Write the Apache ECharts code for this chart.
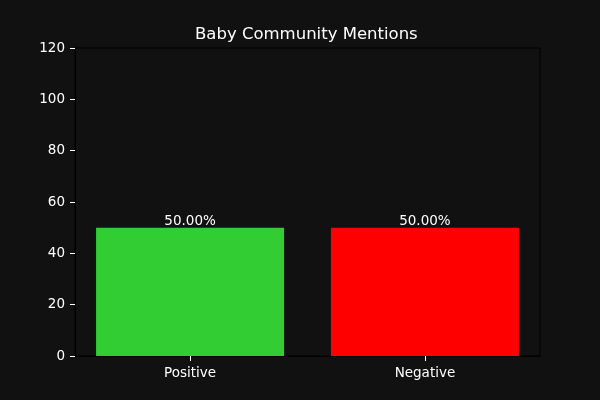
<!DOCTYPE html>
<html>
<head>
<meta charset="utf-8">
<script src="https://cdn.jsdelivr.net/npm/echarts@6/dist/echarts.min.js"></script>
<style>html,body{margin:0;padding:0;background:#111111;}#c{width:600px;height:400px;}</style>
</head>
<body>
<div id="c"></div>
<script>
var categories = ['Positive', 'Negative'];
var values = [50, 50];
var labels = ['50.00%', '50.00%'];
var colors = ['#32CD32', '#FF0000'];
var yTicks = [0, 20, 40, 60, 80, 100, 120];

var chart = echarts.init(document.getElementById('c'), null, {renderer: 'canvas'});
var font = 'DejaVu Sans';
var data = values.map(function (v, i) {
  return {value: [i, v], itemStyle: {color: colors[i]}, label: {formatter: labels[i]}};
});
chart.setOption({
  backgroundColor: '#111111',
  animation: false,
  title: {
    text: 'Baby Community Mentions',
    left: 190, top: 21,
    textStyle: {color: '#ffffff', fontFamily: font, fontSize: 16.5, fontWeight: 'normal'}
  },
  grid: {left: 75, right: 60, top: 48, bottom: 44, show: true, borderColor: '#000000', borderWidth: 1, backgroundColor: 'transparent'},
  xAxis: {
    type: 'value', min: -0.49, max: 1.49,
    splitLine: {show: false},
    axisLine: {show: true, onZero: false, lineStyle: {color: '#000000', width: 1}},
    axisTick: {show: true, length: 5, lineStyle: {color: '#ffffff'}, customValues: [0, 1]},
    axisLabel: {
      color: '#ffffff', fontFamily: font, fontSize: 13.5, margin: 10,
      customValues: [0, 1],
      formatter: function (v) { return categories[Math.round(v)] || ''; }
    }
  },
  yAxis: {
    type: 'value', min: 0, max: 120, interval: 20,
    splitLine: {show: false},
    axisLine: {show: true, onZero: false, lineStyle: {color: '#000000', width: 1}},
    axisTick: {show: true, length: 5, lineStyle: {color: '#ffffff'}},
    axisLabel: {color: '#ffffff', fontFamily: font, fontSize: 13.5, margin: 10,
      formatter: function (v) { return yTicks.indexOf(v) >= 0 ? String(v) : ''; }}
  },
  series: [{
    type: 'bar',
    data: data,
    barWidth: 188,
    label: {show: true, position: 'top', distance: -1, color: '#ffffff', fontFamily: font, fontSize: 13.5}
  }]
});
</script>
</body>
</html>
